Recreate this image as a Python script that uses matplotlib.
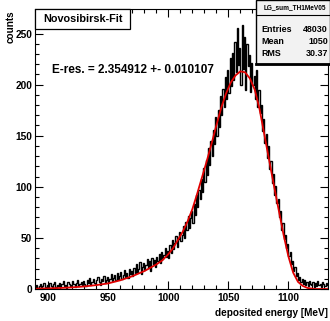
import matplotlib
matplotlib.use('Agg')
import matplotlib.pyplot as plt
from matplotlib.patches import Rectangle
import numpy as np

plt.rcParams['font.family'] = ['Liberation Sans', 'DejaVu Sans']
plt.rcParams['font.weight'] = 'bold'

# histogramm, 1 MeV bins starting at 889 MeV
bin_start = 889
counts = [
    2, 4, 1, 3, 5, 0, 3, 6, 2, 1,
    4, 2, 6, 3, 1, 5, 7, 2, 4, 3,
    6, 2, 5, 8, 3, 4, 1, 7, 5, 3,
    4, 8, 5, 2, 6, 9, 3, 5, 7, 4,
    8, 5, 3, 9, 6, 11, 4, 7, 10, 6,
    5, 9, 12, 7, 4, 10, 8, 13, 6, 9,
    12, 7, 10, 15, 8, 11, 14, 9, 16, 10,
    13, 17, 10, 14, 19, 12, 16, 11, 20, 15,
    18, 13, 21, 16, 24, 17, 20, 26, 15, 22,
    25, 19, 23, 29, 21, 27, 18, 30, 24, 28,
    22, 31, 27, 34, 25, 36, 29, 33, 40, 31,
    37, 30, 43, 35, 48, 39, 45, 52, 41, 49,
    56, 47, 53, 62, 50, 66, 58, 71, 60, 69,
    76, 65, 83, 72, 92, 80, 97, 88, 108, 95,
    118, 105, 126, 112, 138, 121, 145, 130, 156, 142,
    168, 150, 175, 159, 189, 170, 196, 178, 207, 186,
    214, 192, 226, 199, 231, 205, 242, 212, 255, 219,
    236, 200, 258, 215, 247, 195, 240, 218, 229, 193,
    221, 200, 208, 186, 214, 178, 195, 172, 180, 155,
    166, 143, 152, 128, 140, 117, 125, 104, 113, 92,
    101, 84, 88, 70, 76, 58, 65, 49, 53, 40,
    44, 32, 36, 24, 27, 18, 22, 13, 16, 9,
    12, 7, 10, 5, 9, 4, 7, 3, 8, 5,
    4, 7, 2, 6, 3, 8, 4, 5, 2, 7,
    5, 3, 6, 4,
]

# Novosibirsk fit curve
fit_e = [889, 900, 910, 920, 930, 940, 950, 960, 970, 980, 990, 995,
         1000, 1004, 1008, 1012, 1016, 1020, 1024, 1028, 1032, 1036, 1040,
         1044, 1048, 1052, 1056, 1060, 1064, 1068, 1072, 1076, 1080, 1084,
         1088, 1092, 1096, 1100, 1104, 1108, 1112, 1116, 1122, 1133]
fit_y = [0.3, 0.6, 1, 1.6, 2.5, 3.8, 5.5, 8.5, 12.5, 17.5, 24, 28,
         34, 40, 48, 56, 66, 78, 93, 109, 125, 142, 160,
         177, 191, 202, 209, 213, 212, 206, 195, 176, 151, 126,
         101, 77, 53, 32, 16, 7, 3, 1, 0, 0]

hist_name = 'LG_sum_TH1MeV05'
stats_lbl = ['Entries', 'Mean', 'RMS']
stats_val = ['48030', '1050', '30.37']
eres_text = 'E-res. = 2.354912 +- 0.010107'

edges = np.arange(bin_start, bin_start + len(counts) + 1)
centers = edges[:-1] + 0.5

fig = plt.figure(figsize=(3.30, 3.21), dpi=100)
ax = fig.add_axes([35 / 330, 1 - 289 / 321, 293 / 330, 280 / 321])

ax.hist(centers, bins=edges, weights=counts, histtype='step', color='black', lw=1.0)
ax.plot(fit_e, fit_y, color='#e00000', lw=1.3)

ax.set_xlim(889, 1133)
ax.set_ylim(0, 274)
ax.set_xticks([900, 950, 1000, 1050, 1100])
ax.set_xticks(np.arange(890, 1134, 10), minor=True)
ax.set_yticks([0, 50, 100, 150, 200, 250])
ax.set_yticks(np.arange(0, 274, 10), minor=True)
ax.tick_params(which='both', direction='in', top=True, right=True, labelsize=7.3, width=0.8)
ax.tick_params(which='major', length=6)
ax.tick_params(which='minor', length=3)
ax.tick_params(axis='y', pad=2)
ax.tick_params(axis='x', pad=3)
for lab in ax.get_xticklabels() + ax.get_yticklabels():
    lab.set_fontweight('bold')
for sp in ax.spines.values():
    sp.set_linewidth(0.8)

fig.text(11 / 330, 1 - 10 / 321, 'counts', rotation=90, ha='center', va='top',
         fontsize=7.2, fontweight='bold')
fig.text(328 / 330, 1 - 313 / 321, 'deposited energy [MeV]', ha='right', va='center',
         fontsize=7.2, fontweight='bold')

# title box
fig.patches.append(Rectangle((35 / 330, 1 - 29 / 321), 95 / 330, 20 / 321,
                             transform=fig.transFigure, facecolor='white',
                             edgecolor='black', lw=0.9, zorder=5))
fig.text(83 / 330, 1 - 19 / 321, 'Novosibirsk-Fit', ha='center', va='center',
         fontsize=7.8, fontweight='bold', zorder=6)

ax.text(52 / 330, 1 - 70 / 321, eres_text, transform=fig.transFigure,
        ha='left', va='center', fontsize=8.5, fontweight='bold')

# stats box
fig.patches.append(Rectangle((256 / 330, 1 - 64 / 321), 74 / 330, 64 / 321,
                             transform=fig.transFigure, facecolor='#f2f2f2',
                             edgecolor='black', lw=1.0, zorder=5))
fig.lines.append(plt.Line2D([256 / 330, 1], [1 - 64 / 321, 1 - 64 / 321],
                            transform=fig.transFigure, color='black', lw=2, zorder=6))
fig.lines.append(plt.Line2D([256 / 330, 1], [1 - 15 / 321, 1 - 15 / 321],
                            transform=fig.transFigure, color='black', lw=0.8, zorder=6))
fig.text(295 / 330, 1 - 8 / 321, hist_name, ha='center', va='center',
         fontsize=4.7, fontweight='bold', zorder=7)
for i, (l, v) in enumerate(zip(stats_lbl, stats_val)):
    yy = 1 - (29 + 12 * i) / 321
    fig.text(261 / 330, yy, l, ha='left', va='center', fontsize=6.4, fontweight='bold', zorder=7)
    fig.text(328 / 330, yy, v, ha='right', va='center', fontsize=6.4, fontweight='bold', zorder=7)

fig.savefig('out.png', dpi=100)
